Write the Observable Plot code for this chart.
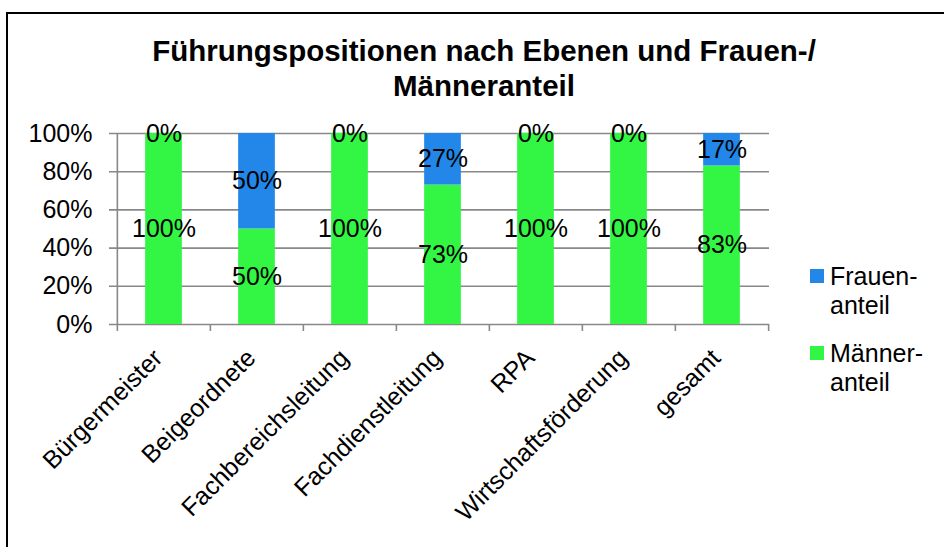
<!DOCTYPE html>
<html><head><meta charset="utf-8">
<script src="https://cdn.jsdelivr.net/npm/d3@7"></script>
<script src="https://cdn.jsdelivr.net/npm/@observablehq/plot@0.6"></script>
<style>
body{margin:0;background:#fff;font-family:"Liberation Sans",Arial,sans-serif;}
#wrap{position:relative;width:944px;height:547px;overflow:hidden;background:#fff;}
#border{position:absolute;left:6px;top:12px;width:1000px;height:600px;border-left:2px solid #000;border-top:2px solid #000;}
#title{position:absolute;left:0;width:968px;top:33px;text-align:center;font-weight:bold;font-size:29.5px;line-height:35px;color:#000;}
#chart{position:absolute;left:0;top:0;}
.lt{position:absolute;left:830px;font-size:25px;line-height:29px;color:#000;}
.sw{position:absolute;left:810px;width:14px;height:14px;}
</style></head><body>
<div id="wrap">
<div id="border"></div>
<div id="chart"></div>
<div id="title">Führungspositionen nach Ebenen und Frauen-/<br>Männeranteil</div>
<div id="legend"></div>
</div>
<script>
const categories = ["Bürgermeister","Beigeordnete","Fachbereichsleitung","Fachdienstleitung","RPA","Wirtschaftsförderung","gesamt"];
const maennerAnteil = [1.00, 0.50, 1.00, 0.73, 1.00, 1.00, 0.83];
const frauenAnteil  = [0.00, 0.50, 0.00, 0.27, 0.00, 0.00, 0.17];
const yTicks = [0, 0.2, 0.4, 0.6, 0.8, 1.0];
const seriesNames = ["Männeranteil", "Frauenanteil"];
const seriesColors = ["#33f543", "#2287e9"];
const legendLabels = [["Frauen-", "anteil"], ["Männer-", "anteil"]];
const legendColors = ["#2287e9", "#33f543"];

const rows = categories.flatMap((c, i) => [
  {cat: c, series: seriesNames[0], value: maennerAnteil[i]},
  {cat: c, series: seriesNames[1], value: frauenAnteil[i]}
]);

const W = 944, H = 547, mL = 116, mR = 175, mT = 133, mB = 223;
const bw = (W - mL - mR) / categories.length;
const barW = 37;
const grey = "#888";

const chart = Plot.plot({
  width: W, height: H,
  marginLeft: mL, marginRight: mR, marginTop: mT, marginBottom: mB,
  style: {fontFamily: "'Liberation Sans', Arial, sans-serif", fontSize: "25px", color: "#000", background: "transparent"},
  x: {type: "band", domain: categories, padding: 0, axis: null},
  y: {domain: [0, 1], axis: null},
  color: {domain: seriesNames, range: seriesColors},
  marks: [
    Plot.ruleY(yTicks, {stroke: grey, strokeWidth: 1.6, insetLeft: -7}),
    Plot.barY(rows, {x: "cat", y: "value", fill: "series", insetLeft: (bw - barW) / 2, insetRight: (bw - barW) / 2}),
    Plot.ruleX([categories[0]], {y1: 0, y2: 1, dx: -bw / 2, stroke: grey, strokeWidth: 1.6}),
    Plot.ruleX(categories, {y1: 0, y2: 0, dx: -bw / 2, insetBottom: -7, stroke: grey, strokeWidth: 1.6}),
    Plot.ruleX([categories[categories.length - 1]], {y1: 0, y2: 0, dx: bw / 2, insetBottom: -7, stroke: grey, strokeWidth: 1.6}),
    Plot.text(yTicks, {y: d => d, frameAnchor: "left", text: d => Math.round(d * 100) + "%", textAnchor: "end", dx: -24, fill: "#000", fontSize: 25}),
    Plot.text(rows, Plot.stackY({x: "cat", y: "value", z: "series", text: d => Math.round(d.value * 100) + "%", fill: "#000", fontSize: 25})),
    Plot.text(categories, {x: d => d, frameAnchor: "bottom", text: d => d, rotate: -45, textAnchor: "end", dx: 0, dy: 35, fill: "#000", fontSize: 25})
  ]
});
document.getElementById("chart").appendChild(chart);

const leg = document.getElementById("legend");
const legTops = [262, 339];
legendLabels.forEach((lines, i) => {
  const sw = document.createElement("div");
  sw.className = "sw";
  sw.style.top = (legTops[i] + 7) + "px";
  sw.style.background = legendColors[i];
  leg.appendChild(sw);
  const t = document.createElement("div");
  t.className = "lt";
  t.style.top = legTops[i] + "px";
  t.innerHTML = lines.join("<br>");
  leg.appendChild(t);
});
</script>
</body></html>
